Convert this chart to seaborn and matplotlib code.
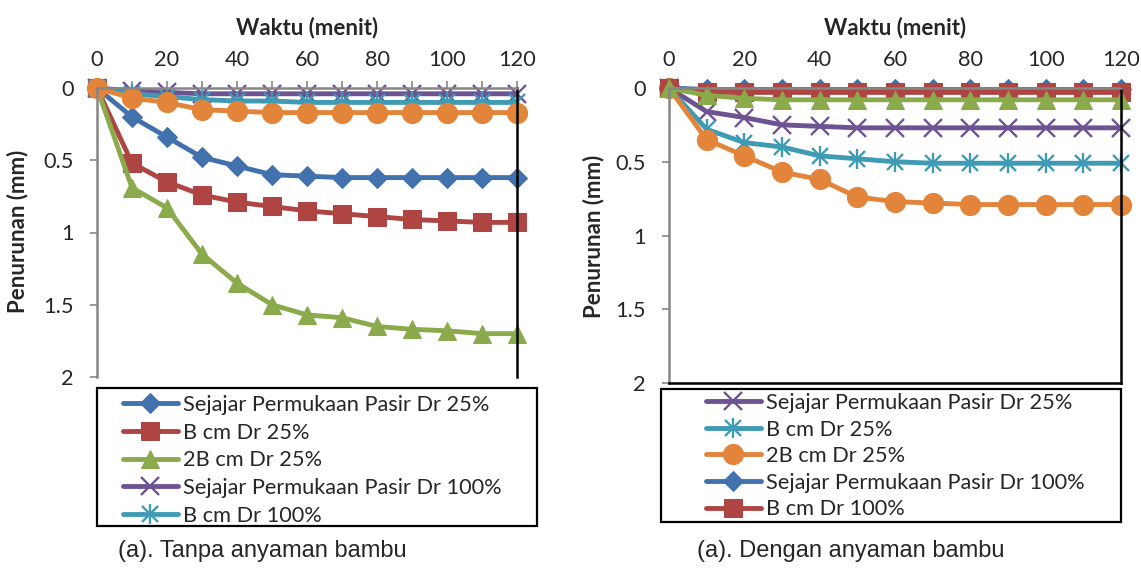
import numpy as np
import pandas as pd
import matplotlib
matplotlib.use("Agg")
import matplotlib.pyplot as plt
import seaborn as sns
from matplotlib.legend_handler import HandlerTuple
from matplotlib.patches import Rectangle

sns.set_theme(style="white")
plt.rcParams['font.family'] = ['Lato', 'DejaVu Sans']

# ---------------- data ----------------
waktu = [0, 10, 20, 30, 40, 50, 60, 70, 80, 90, 100, 110, 120]

# (a) Tanpa anyaman bambu
tanpa_sejajar_25 = [0, 0.20, 0.34, 0.48, 0.54, 0.60, 0.61, 0.62, 0.62, 0.62, 0.62, 0.62, 0.62]
tanpa_b_25 = [0, 0.52, 0.65, 0.74, 0.79, 0.82, 0.85, 0.87, 0.89, 0.91, 0.92, 0.93, 0.93]
tanpa_2b_25 = [0, 0.69, 0.83, 1.15, 1.35, 1.50, 1.57, 1.59, 1.65, 1.67, 1.68, 1.70, 1.70]
tanpa_sejajar_100 = [0, 0.02, 0.03, 0.04, 0.04, 0.04, 0.04, 0.04, 0.04, 0.04, 0.04, 0.04, 0.04]
tanpa_b_100 = [0, 0.04, 0.06, 0.08, 0.09, 0.09, 0.10, 0.10, 0.10, 0.10, 0.10, 0.10, 0.10]
tanpa_2b_100 = [0, 0.07, 0.10, 0.15, 0.16, 0.17, 0.17, 0.17, 0.17, 0.17, 0.17, 0.17, 0.17]

# (b) Dengan anyaman bambu
dengan_sejajar_25 = [0, 0.16, 0.20, 0.25, 0.26, 0.27, 0.27, 0.27, 0.27, 0.27, 0.27, 0.27, 0.27]
dengan_b_25 = [0, 0.28, 0.37, 0.40, 0.46, 0.48, 0.50, 0.51, 0.51, 0.51, 0.51, 0.51, 0.51]
dengan_2b_25 = [0, 0.35, 0.46, 0.57, 0.62, 0.74, 0.77, 0.78, 0.79, 0.79, 0.79, 0.79, 0.79]
dengan_sejajar_100 = [0, 0.01, 0.01, 0.01, 0.01, 0.01, 0.01, 0.01, 0.01, 0.01, 0.01, 0.01, 0.01]
dengan_b_100 = [0, 0.03, 0.03, 0.03, 0.03, 0.03, 0.03, 0.03, 0.03, 0.03, 0.03, 0.03, 0.03]
dengan_2b_100 = [0, 0.05, 0.07, 0.08, 0.08, 0.08, 0.08, 0.08, 0.08, 0.08, 0.08, 0.08, 0.08]

lbl_sejajar_25 = "Sejajar Permukaan Pasir Dr 25%"
lbl_b_25 = "B cm Dr 25%"
lbl_2b_25 = "2B cm Dr 25%"
lbl_sejajar_100 = "Sejajar Permukaan Pasir Dr 100%"
lbl_b_100 = "B cm Dr 100%"
lbl_2b_100 = "2B cm Dr 100%"

x_ticks = [0, 20, 40, 60, 80, 100, 120]
y_ticks = [0, 0.5, 1, 1.5, 2]
y_ticklabels = ["0", "0.5", "1", "1.5", "2"]

c_blue = "#4172AD"
c_red = "#AE4542"
c_green = "#8AAA4B"
c_purple = "#6E5393"
c_teal = "#3F9BB4"
c_orange = "#E2843A"

FS = 15.7

# ---------------- figure ----------------
fig = plt.figure(figsize=(11.41, 5.68), dpi=100)
W, H = 1141, 568


def px_axes(x0, y0, x1, y1):
    return fig.add_axes([x0 / W, 1 - y1 / H, (x1 - x0) / W, (y1 - y0) / H])


ax1 = px_axes(97, 88, 517, 377)
ax2 = px_axes(669, 88, 1121, 383)

LW = 3.5


def draw(ax, y, color, kind, label):
    styles = {
        "D": dict(marker="D", markersize=10.5),
        "s": dict(marker="s", markersize=13),
        "^": dict(marker="^", markersize=13.5),
        "x": dict(marker="x", markersize=13, markeredgewidth=1.7),
        "*": dict(marker="x", markersize=12, markeredgewidth=1.7),
        "o": dict(marker="o", markersize=14.5),
    }
    st = styles[kind]
    sns.lineplot(x=waktu, y=y, ax=ax, color=color, linewidth=LW, label=label,
                 markeredgecolor=color, markerfacecolor=color, clip_on=False,
                 legend=False, **st)
    line = ax.get_lines()[-1]
    handle = line
    if kind == "*":
        extra, = ax.plot(waktu, y, linestyle="none", marker="|", markersize=14,
                         markeredgewidth=1.7, color=color, clip_on=False)
        handle = (line, extra)
    return handle


def style_axes(ax):
    ax.set_xlim(0, 120)
    ax.set_ylim(2, 0)
    ax.xaxis.tick_top()
    ax.xaxis.set_label_position("top")
    ax.set_xticks(x_ticks)
    ax.set_xticks(list(range(0, 121, 10)), minor=True)
    ax.set_yticks(y_ticks)
    ax.set_yticklabels(y_ticklabels)
    ax.tick_params(axis="x", which="both", direction="out", length=5, width=1.2,
                   color="#868686", labelsize=FS, pad=8, top=True, bottom=False)
    ax.tick_params(axis="y", direction="out", length=5, width=1.2, color="#868686",
                   labelsize=FS, pad=12, left=True)
    ax.set_xlabel("Waktu (menit)", fontsize=16, fontweight="bold", labelpad=11)
    ax.set_ylabel("")
    ax.grid(False)
    ax.set_facecolor("none")
    for s in ["top", "left"]:
        ax.spines[s].set_color("#868686")
        ax.spines[s].set_linewidth(1.8)
    ax.spines["right"].set_color("black")
    ax.spines["right"].set_linewidth(1.8)


def legend_box(handles, labels, box, handle_x, top_y, spacing):
    x0, y0, x1, y1 = box
    fig.patches.append(Rectangle((x0 / W, 1 - y1 / H), (x1 - x0) / W, (y1 - y0) / H,
                                 transform=fig.transFigure, fill=False,
                                 edgecolor="black", linewidth=1.6))
    leg = fig.legend(handles, labels, loc="upper left",
                     bbox_to_anchor=(handle_x / W, 1 - top_y / H),
                     fontsize=FS, frameon=False, handlelength=2.5,
                     handletextpad=0.25, labelspacing=spacing, borderpad=0,
                     borderaxespad=0,
                     handler_map={tuple: HandlerTuple(ndivide=1)})
    return leg


# left panel
h1 = draw(ax1, tanpa_sejajar_25, c_blue, "D", lbl_sejajar_25)
h2 = draw(ax1, tanpa_b_25, c_red, "s", lbl_b_25)
h3 = draw(ax1, tanpa_2b_25, c_green, "^", lbl_2b_25)
h4 = draw(ax1, tanpa_sejajar_100, c_purple, "x", lbl_sejajar_100)
h5 = draw(ax1, tanpa_b_100, c_teal, "*", lbl_b_100)
h6 = draw(ax1, tanpa_2b_100, c_orange, "o", lbl_2b_100)
style_axes(ax1)
ax1.spines["bottom"].set_visible(False)

legend_box([h1, h2, h3, h4, h5],
           [lbl_sejajar_25, lbl_b_25, lbl_2b_25, lbl_sejajar_100, lbl_b_100],
           (97, 388, 537, 526), 123, 395, 0.35)

# right panel
g1 = draw(ax2, dengan_sejajar_25, c_purple, "x", lbl_sejajar_25)
g2 = draw(ax2, dengan_b_25, c_teal, "*", lbl_b_25)
g3 = draw(ax2, dengan_2b_25, c_orange, "o", lbl_2b_25)
g4 = draw(ax2, dengan_sejajar_100, c_blue, "D", lbl_sejajar_100)
g5 = draw(ax2, dengan_b_100, c_red, "s", lbl_b_100)
g6 = draw(ax2, dengan_2b_100, c_green, "^", lbl_2b_100)
style_axes(ax2)
ax2.spines["bottom"].set_color("black")
ax2.spines["bottom"].set_linewidth(1.8)

legend_box([g1, g2, g3, g4, g5],
           [lbl_sejajar_25, lbl_b_25, lbl_2b_25, lbl_sejajar_100, lbl_b_100],
           (661, 389, 1121, 522), 706, 393, 0.30)

# y labels
fig.text(18 / W, 1 - 231 / H, "Penurunan (mm)", rotation=90, fontsize=16,
         fontweight="bold", ha="center", va="center")
fig.text(594 / W, 1 - 236 / H, "Penurunan (mm)", rotation=90, fontsize=16,
         fontweight="bold", ha="center", va="center")

# captions
fig.text(118 / W, 1 - 551 / H, "(a). Tanpa anyaman bambu", fontsize=17,
         family=["Liberation Sans", "DejaVu Sans"], ha="left", va="center")
fig.text(697 / W, 1 - 551 / H, "(a). Dengan anyaman bambu", fontsize=17,
         family=["Liberation Sans", "DejaVu Sans"], ha="left", va="center")

fig.savefig("out.png", dpi=100, facecolor="white")
